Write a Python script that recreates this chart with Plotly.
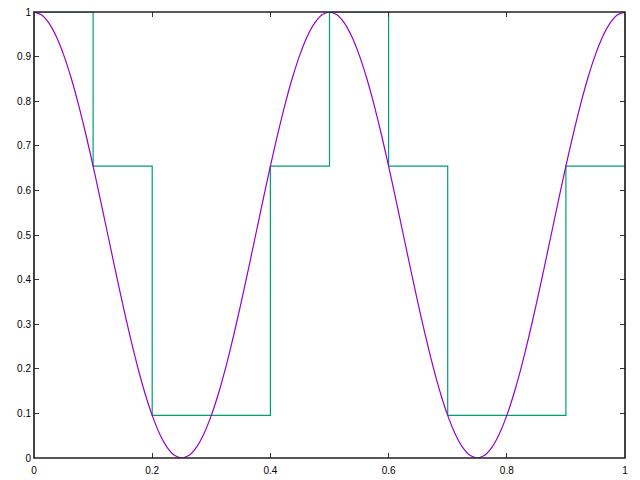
import plotly.graph_objects as go

# smooth curve: one quarter period (x step 0.0125), mirrored
quarter_y = [1.0, 0.9938, 0.9755, 0.9455, 0.9045, 0.8536, 0.7939, 0.7270, 0.6545, 0.5782,
             0.5, 0.4218, 0.3455, 0.2730, 0.2061, 0.1464, 0.0955, 0.0545, 0.0245, 0.0062, 0.0]
half_y = quarter_y + quarter_y[-2::-1]
curve_y = half_y + half_y[1:]
curve_x = [i * 0.0125 for i in range(len(curve_y))]

# step samples
step_x = [0.0, 0.1, 0.2, 0.3, 0.4, 0.5, 0.6, 0.7, 0.8, 0.9, 1.0]
step_y = [1.0, 0.6545, 0.0955, 0.0955, 0.6545, 1.0, 0.6545, 0.0955, 0.0955, 0.6545, 0.6545]

x_ticks = [0, 0.2, 0.4, 0.6, 0.8, 1]
x_labels = ["0", "0.2", "0.4", "0.6", "0.8", "1"]
y_ticks = [0, 0.1, 0.2, 0.3, 0.4, 0.5, 0.6, 0.7, 0.8, 0.9, 1]
y_labels = ["0", "0.1", "0.2", "0.3", "0.4", "0.5", "0.6", "0.7", "0.8", "0.9", "1"]

fig = go.Figure()
fig.add_trace(go.Scatter(x=step_x, y=step_y, mode="lines",
                         line=dict(color="#009e73", width=1.2, shape="hv"),
                         showlegend=False, hoverinfo="skip"))
fig.add_trace(go.Scatter(x=curve_x, y=curve_y, mode="lines",
                         line=dict(color="#9400d3", width=1.2, shape="spline", smoothing=0.6),
                         showlegend=False, hoverinfo="skip"))

axis_common = dict(showgrid=False, zeroline=False, showline=False,
                   mirror="ticks", ticks="inside", ticklen=5,
                   tickcolor="#333333", tickwidth=1, layer="above traces",
                   tickfont=dict(family="Liberation Sans, Arial, sans-serif", size=10, color="black"))

fig.update_xaxes(range=[0, 1], tickvals=x_ticks, ticktext=x_labels,
                 ticklabelstandoff=5, **axis_common)
fig.update_yaxes(range=[0, 1], tickvals=y_ticks, ticktext=y_labels,
                 ticklabelstandoff=2, **axis_common)

# frame centred on the plot edges, drawn over the data
fig.add_shape(type="rect", xref="paper", yref="paper", x0=0, x1=1, y0=0, y1=1,
              line=dict(color="#222222", width=1.7), layer="above")

fig.update_layout(width=640, height=480, margin=dict(l=34, r=15, t=12, b=22, autoexpand=False),
                  plot_bgcolor="white", paper_bgcolor="white")

fig.write_html("out.html", config={"displayModeBar": False, "staticPlot": True})

# remove default page margin so the figure sits at the window origin
with open("out.html", "r", encoding="utf-8") as f:
    html = f.read()
html = html.replace("<head>", "<head><style>html,body{margin:0;padding:0;overflow:hidden;}</style>", 1)
with open("out.html", "w", encoding="utf-8") as f:
    f.write(html)
